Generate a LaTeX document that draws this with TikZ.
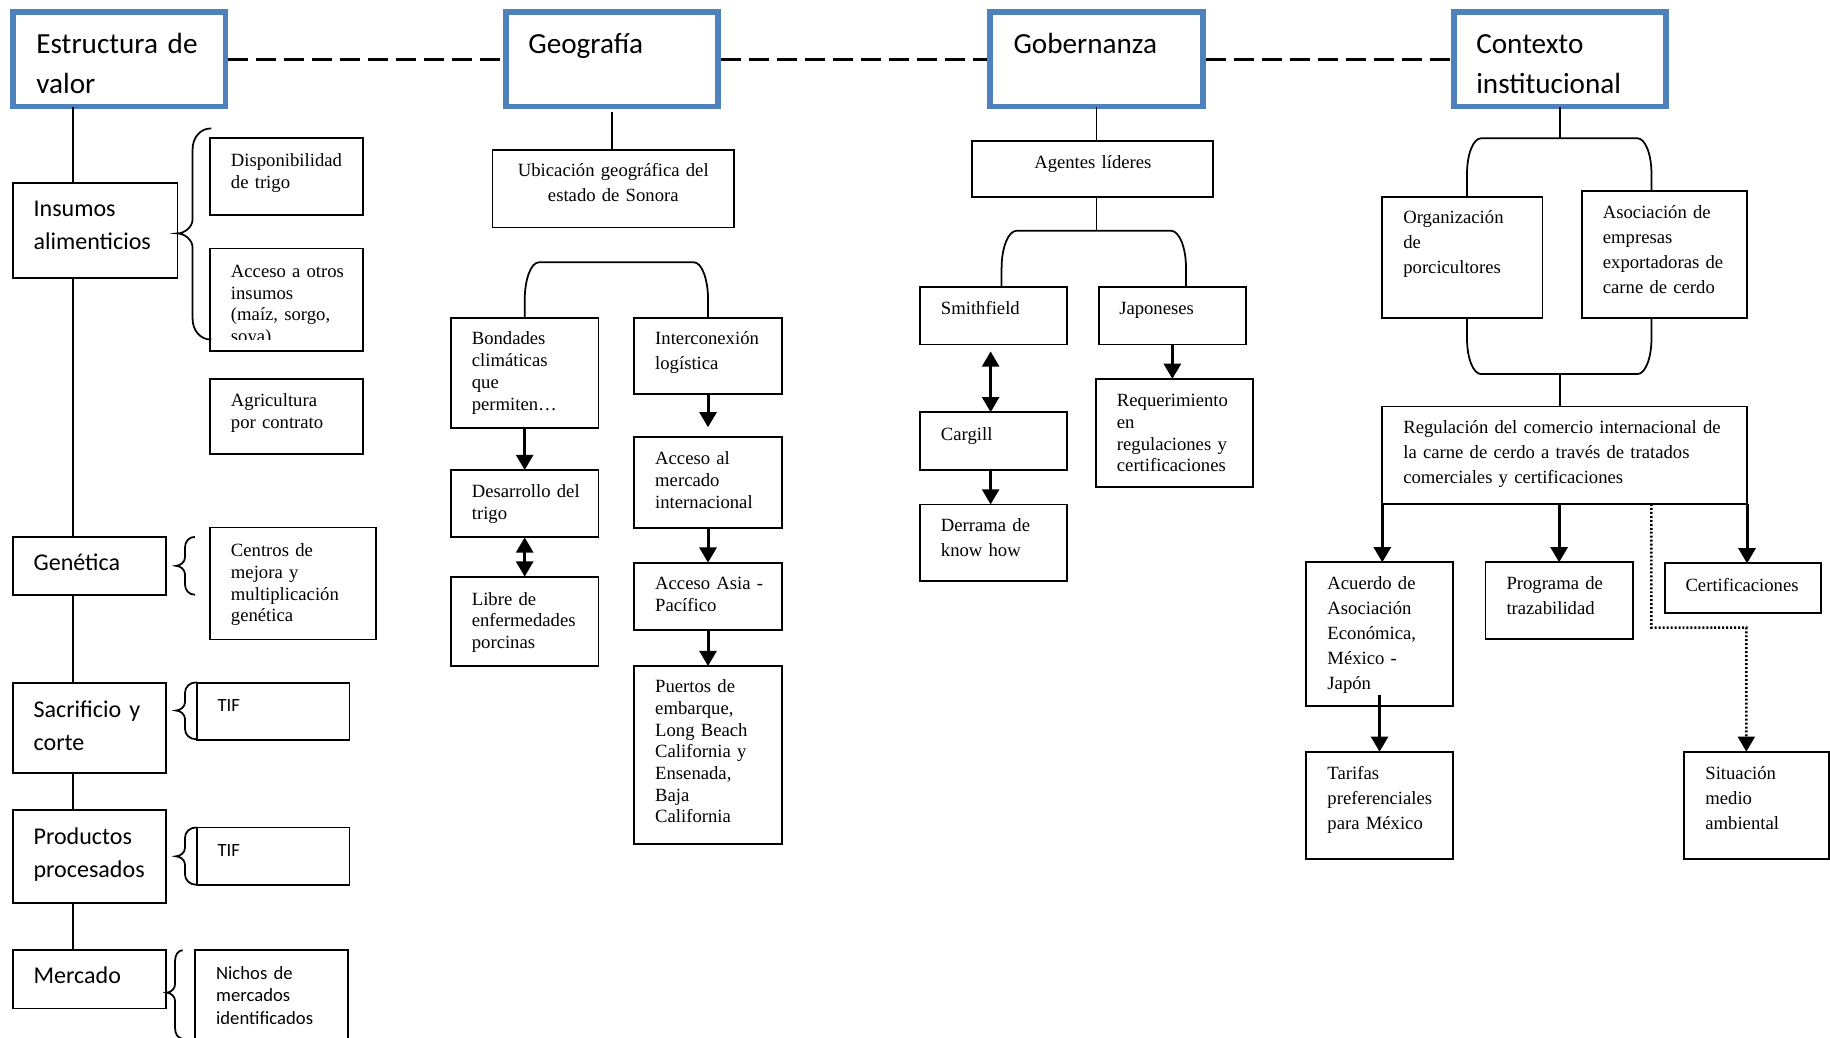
\documentclass[tikz,border=0pt]{standalone}
\usepackage{fontspec}
\setmainfont{Liberation Serif}
\newfontfamily\calibri{Carlito}
\usetikzlibrary{arrows.meta}
\definecolor{headblue}{RGB}{79,129,189}
\tikzset{
  >={Triangle[length=13pt,width=14.5pt]},
  box/.style={draw=black, line width=1.5pt, fill=white, inner sep=0pt, outer sep=0pt, anchor=north west},
  headbox/.style={box, draw=headblue, line width=5pt, minimum width=182, minimum height=81},
  headtext/.style={font=\calibri\fontsize{25}{34.3}\selectfont, anchor=base west, inner sep=0pt, text width=300pt, align=left},
  stagetext/.style={headtext, font=\calibri\fontsize{20.6}{28.4}\selectfont},
  smalltext/.style={headtext, font=\calibri\fontsize{16}{19.4}\selectfont},
  note/.style={headtext, font=\fontsize{16}{18.6}\selectfont},
  notewide/.style={headtext, font=\fontsize{16}{21.4}\selectfont},
  notecenter/.style={notewide, anchor=base, text width=206pt, align=center},
  conn/.style={line width=1.5pt},
  flow/.style={->, line width=2.6pt},
  dualflow/.style={<->, line width=2.3pt},
  dotflow/.style={->, line width=2.1pt, dash pattern=on 1.7pt off 1.7pt},
  link/.style={line width=2.2pt, dash pattern=on 17pt off 7pt, shorten <=2.5pt, shorten >=2.5pt},
  bracestroke/.style={line width=1.5pt}
}

\begin{document}
\begin{tikzpicture}[x=1pt,y=-1pt]
  \useasboundingbox (0,0) rectangle (1568,889);
  % the four dimensions
  \node[headbox] (estructura) at (11.2,10.3) {};
  \node[headbox] (geografia) at (433.3,10.3) {};
  \node[headbox] (gobernanza) at (848.6,10.3) {};
  \node[headbox] (contexto) at (1245.5,10.3) {};
  \node[headtext] (estructura-t) at (31,45.7) {Estructura de\\valor};
  \node[headtext] (geografia-t) at (452.5,45.7) {Geografía};
  \node[headtext] (gobernanza-t) at (868.2,45.7) {Gobernanza};
  \node[headtext] (contexto-t) at (1264.7,45.7) {Contexto\\institucional};
  \draw[link] (estructura.east) -- (geografia.west);
  \draw[link] (geografia.east) -- (gobernanza.west);
  \draw[link] (gobernanza.east) -- (contexto.west);

  % value chain
  \foreach \name/\y/\w/\h/\base/\txt in {insumos/157/141/81/185.7/{Insumos\\alimenticios},
      genetica/460/131/50/488.8/{Genética}, sacrificio/585/131/77/614.9/{Sacrificio y\\corte},
      productos/694/131/80/723.4/{Productos\\procesados}, mercado/814/131/50/842.8/{Mercado}}{
    \node[box, minimum width=\w, minimum height=\h] (\name) at (11,\y) {};
    \node[stagetext] (\name-t) at (28.6,\base) {\txt};
  }
  \coordinate (trunk) at (62.6,0);
  \foreach \a/\b in {estructura/insumos,insumos/genetica,genetica/sacrificio,sacrificio/productos,productos/mercado}
    \draw[conn] (trunk |- \a.south) -- (trunk |- \b.north);

  \node[box, minimum width=131, minimum height=66] (dispo) at (180,118) {};
  \node[note] (dispo-t) at (197.7,142.8) {Disponibilidad\\de trigo};
  \node[box, minimum width=131, minimum height=88] (acceso) at (180,213) {};
  \begin{scope}
    \clip (180,213) rectangle (311,291);
    \node[note] (acceso-t) at (197.7,237.6) {Acceso a otros\\insumos\\(maíz, sorgo,\\soya)};
  \end{scope}
  \node[box, minimum width=131, minimum height=64] (agricultura) at (180,325) {};
  \node[note] (agricultura-t) at (197.7,348.5) {Agricultura\\por contrato};
  \node[box, minimum width=142, minimum height=96] (centros) at (180,452) {};
  \node[note] (centros-t) at (197.7,477.1) {Centros de\\mejora y\\multiplicación\\genética};
  \node[box, minimum width=131, minimum height=49] (tif1) at (168.5,585) {};
  \node[smalltext] (tif1-t) at (186.2,609.7) {TIF};
  \node[box, minimum width=131, minimum height=49] (tif2) at (168.5,709) {};
  \node[smalltext] (tif2-t) at (186.2,733.7) {TIF};
  \node[box, minimum width=131, minimum height=80] (nichos) at (167,814) {};
  \node[smalltext] (nichos-t) at (185,839) {Nichos de\\mercados\\identificados};

  \foreach \xt/\yt/\xv/\xe/\yo/\yu/\ec/\tc in {152/200/165/181/110/291/18/12,
      150.8/484.8/158.5/167/460/509.6/9/7, 150.8/608.8/158.5/168.5/584.6/633.5/9/7,
      150.8/733.7/158.5/168.5/708.9/758.1/9/7, 142.8/850.5/150/156.5/814.2/890/9/7}
    \draw[bracestroke] (\xe,\yo) .. controls ({\xv+0.4*(\xe-\xv)},\yo) and (\xv,{\yo+0.45*\ec}) .. (\xv,{\yo+\ec})
      -- (\xv,{\yt-\tc}) .. controls (\xv,{\yt-0.45*\tc}) and ({\xt+0.45*(\xv-\xt)},\yt) .. (\xt,\yt)
      .. controls ({\xt+0.45*(\xv-\xt)},\yt) and (\xv,{\yt+0.45*\tc}) .. (\xv,{\yt+\tc})
      -- (\xv,{\yu-\ec}) .. controls (\xv,{\yu-0.45*\ec}) and ({\xv+0.4*(\xe-\xv)},\yu) .. (\xe,\yu);

  % geography
  \node[box, minimum width=207, minimum height=66.5] (ubicacion) at (422,128.5) {};
  \node[notecenter] (ubicacion-t) at (525.5,151.4) {Ubicación geográfica del\\estado de Sonora};
  \node[box, minimum width=126.3, minimum height=94.3] (bondades) at (386.4,272.7) {};
  \node[note] (bondades-t) at (404.1,295.6) {Bondades\\climáticas\\que\\permiten…};
  \node[box, minimum width=126.3, minimum height=57.7] (desarrollo) at (386.4,402.7) {};
  \node[note] (desarrollo-t) at (404.1,426.1) {Desarrollo del\\trigo};
  \node[box, minimum width=126.3, minimum height=76.6] (libre) at (386.4,494.1) {};
  \node[note] (libre-t) at (404.1,518.4) {Libre de\\enfermedades\\porcinas};
  \node[box, minimum width=126.3, minimum height=65.2] (interconexion) at (543.5,272.7) {};
  \node[notewide] (interconexion-t) at (561.2,295.6) {Interconexión\\logística};
  \node[box, minimum width=126.3, minimum height=78] (mercadoint) at (543.5,374.7) {};
  \node[note] (mercadoint-t) at (561.2,398.4) {Acceso al\\mercado\\internacional};
  \node[box, minimum width=126.3, minimum height=57.7] (asia) at (543.5,482.1) {};
  \node[note] (asia-t) at (561.2,505.5) {Acceso Asia -\\Pacífico};
  \node[box, minimum width=126.3, minimum height=152.5] (puertos) at (543.5,570.7) {};
  \node[note] (puertos-t) at (561.2,593.5) {Puertos de\\embarque,\\Long Beach\\California y\\Ensenada,\\Baja\\California};

  \draw[conn, shorten <=5pt] (geografia.south) -- (geografia.south |- ubicacion.north);
  \draw[conn] (bondades.north) -- (449.6,257) .. controls (449.6,239.3) and (455,224.8) .. (461.6,224.8)
    -- (594.7,224.8) .. controls (601.3,224.8) and (606.7,239.3) .. (606.7,257) -- (interconexion.north);
  \draw[flow] (bondades.south) -- (desarrollo.north);
  \draw[dualflow] (desarrollo.south) -- (libre.north);
  \draw[flow, shorten >=8.6pt] (interconexion.south) -- (mercadoint.north);
  \draw[flow] (mercadoint.south) -- (asia.north);
  \draw[flow] (asia.south) -- (puertos.north);

  % governance
  \node[box, minimum width=206.5, minimum height=48.2] (agentes) at (833.1,120.7) {};
  \node[notecenter] (agentes-t) at (936.4,144.3) {Agentes líderes};
  \node[box, minimum width=126.2, minimum height=49.2] (smithfield) at (788.3,245.9) {};
  \node[note] (smithfield-t) at (806,269.5) {Smithfield};
  \node[box, minimum width=125.6, minimum height=49.2] (japoneses) at (941.7,245.9) {};
  \node[note] (japoneses-t) at (958.8,269.5) {Japoneses};
  \node[box, minimum width=126.2, minimum height=49.5] (cargill) at (788.3,353.2) {};
  \node[note] (cargill-t) at (806,377.1) {Cargill};
  \node[box, minimum width=126.2, minimum height=65.6] (derrama) at (788.3,432.2) {};
  \node[notewide] (derrama-t) at (806,455.8) {Derrama de\\know how};
  \node[box, minimum width=134.2, minimum height=92.5] (requerimiento) at (939.1,324.6) {};
  \node[note] (requerimiento-t) at (956.8,348.6) {Requerimiento\\en\\regulaciones y\\certificaciones};

  \draw[conn] (gobernanza.south) -- (gobernanza.south |- agentes.north);
  \draw[conn] (agentes.south -| gobernanza.south) -- (939.6,197.7);
  \draw[conn] ([xshift=6.8pt]smithfield.north) -- (858.2,229.5) .. controls (858.2,212) and (864,197.7) .. (871.1,197.7)
    -- (1003.3,197.7) .. controls (1010.4,197.7) and (1016.2,212) .. (1016.2,229.5) -- ([xshift=11.7pt]japoneses.north);
  \draw[dualflow, shorten <=6pt] ([xshift=-2.6pt]smithfield.south) -- ([xshift=-2.6pt]cargill.north);
  \draw[flow] ([xshift=-2.6pt]cargill.south) -- ([xshift=-2.6pt]derrama.north);
  \draw[flow] (japoneses.south) -- (japoneses.south |- requerimiento.north);

  % institutional context
  \node[box, minimum width=137.2, minimum height=104.2] (organizacion) at (1184.4,168.5) {};
  \node[notewide] (organizacion-t) at (1202.2,191.9) {Organización\\de\\porcicultores};
  \node[box, minimum width=141.4, minimum height=108.8] (asociacion) at (1355.5,163.9) {};
  \node[notewide] (asociacion-t) at (1373.2,187.1) {Asociación de\\empresas\\exportadoras de\\carne de cerdo};
  \node[box, minimum width=312.5, minimum height=83.4] (regulacion) at (1184.4,348.4) {};
  \node[notewide] (regulacion-t) at (1202.2,371.3) {Regulación del comercio internacional de\\la carne de cerdo a través de tratados\\comerciales y certificaciones};
  \node[box, minimum width=125.7, minimum height=122.9] (acuerdo) at (1119.2,481.8) {};
  \node[notewide] (acuerdo-t) at (1137.2,505.5) {Acuerdo de\\Asociación\\Económica,\\México -\\Japón};
  \node[box, minimum width=126, minimum height=65.4] (programa) at (1272.9,481.8) {};
  \node[notewide] (programa-t) at (1290.6,505.5) {Programa de\\trazabilidad};
  \node[box, minimum width=134, minimum height=42.3] (certificaciones) at (1426.3,482.7) {};
  \node[notewide] (certificaciones-t) at (1444,507) {Certificaciones};
  \node[box, minimum width=125.7, minimum height=92.2] (tarifas) at (1119.2,644.1) {};
  \node[notewide] (tarifas-t) at (1137.2,668.3) {Tarifas\\preferenciales\\para México};
  \node[box, minimum width=124, minimum height=92.2] (situacion) at (1443.2,644.1) {};
  \node[notewide] (situacion-t) at (1461,668.3) {Situación\\medio\\ambiental};

  \draw[conn] (contexto.south) -- (1336.5,118.5);
  \draw[conn] ([xshift=4pt]organizacion.north) -- (1257,148.5) .. controls (1257,131.9) and (1262.4,118.5) .. (1269,118.5)
    -- (1403,118.5) .. controls (1409.6,118.5) and (1415,131.9) .. (1415,148.5) -- ([xshift=-11.2pt]asociacion.north);
  \draw[conn] ([xshift=4pt]organizacion.south) -- (1257,290.5) .. controls (1257,307.1) and (1262.4,320.5) .. (1269,320.5)
    -- (1403,320.5) .. controls (1409.6,320.5) and (1415,307.1) .. (1415,290.5) -- ([xshift=-11.2pt]asociacion.south);
  \draw[conn] (1336.5,320.5) -- (regulacion.north -| contexto.south);
  \draw[flow] (regulacion.south west) -- (regulacion.south west |- acuerdo.north);
  \draw[flow] (programa.north |- regulacion.south) -- (programa.north);
  \draw[flow] (regulacion.south east) -- (regulacion.south east |- certificaciones.north);
  \draw[dotflow] ([xshift=74.3pt]regulacion.south) -- (1415,537.8) -- (1496.3,537.8) -- ([xshift=-8.9pt]situacion.north);
  \draw[flow] ([yshift=9.2pt]acuerdo.south) -- (tarifas.north);
\end{tikzpicture}
\end{document}
